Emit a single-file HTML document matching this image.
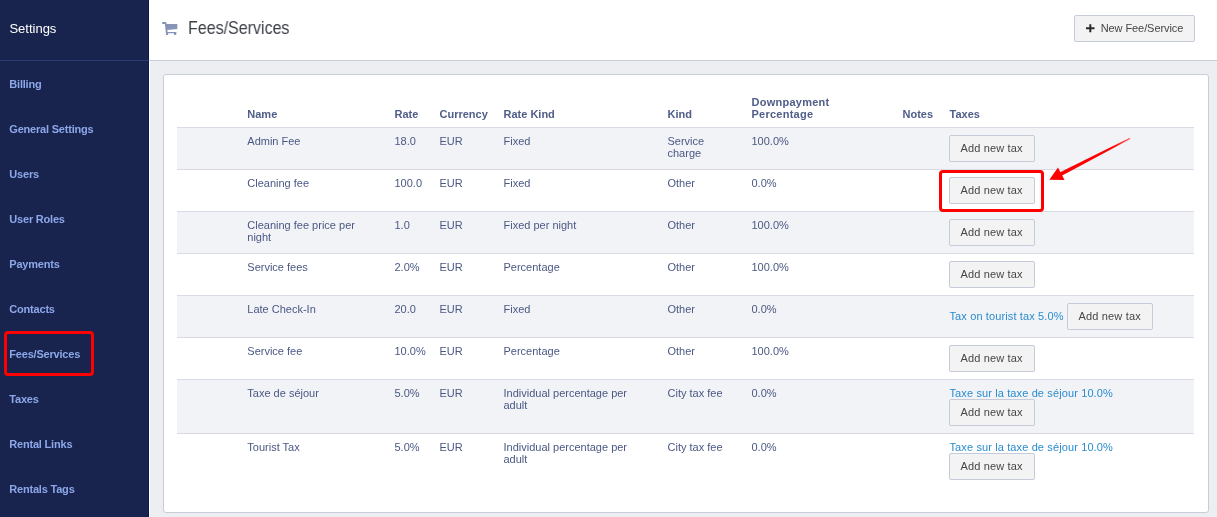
<!DOCTYPE html>
<html><head><meta charset="utf-8">
<style>
*{box-sizing:border-box;margin:0;padding:0}
html,body{width:1217px;height:517px;overflow:hidden;background:#fff}
body{position:relative;font-family:"Liberation Sans",sans-serif;-webkit-font-smoothing:antialiased}
#side,#card,.title,.newbtn{will-change:transform}
#side{position:absolute;left:0;top:0;width:149px;height:517px;background:#18244e;border-right:1px solid #0e1a45}
#side .hdline{position:absolute;left:0;top:60px;width:149px;height:1px;background:#2b3c73}
#side .ttl{position:absolute;left:9.4px;top:21px;color:#fff;font-size:13px;line-height:16px}
#side .nav{position:absolute;left:9.3px;color:#8da7e9;font-size:11px;font-weight:bold;line-height:12px;white-space:nowrap;letter-spacing:-0.2px}
#hdr{position:absolute;left:149px;top:0;width:1068px;height:60px;background:#fff}
#hline{position:absolute;left:149px;top:60px;width:1068px;height:1px;background:#c9cdd8}
#content{position:absolute;left:150px;top:61px;width:1067px;height:456px;background:#eceef2}
#wcol{position:absolute;left:149px;top:61px;width:1px;height:456px;background:#fff}
.title{position:absolute;left:188px;top:18px;font-size:17.5px;line-height:20px;color:#3b3e47;white-space:nowrap;transform:scaleX(0.915);transform-origin:0 0}
.newbtn{position:absolute;left:1074px;top:15px;width:121px;height:27px;border:1px solid #c6cbd9;border-radius:2px;background:#f3f3f3;color:#464646;font-size:11px;line-height:25px;white-space:nowrap}
.newbtn span{position:absolute;left:25.7px;top:0;letter-spacing:-0.08px}
#card{position:absolute;left:163px;top:74px;width:1046px;height:439px;background:#fff;border:1px solid #c9cdd8;border-radius:3px}
table{position:absolute;left:13px;top:0;width:1017px;border-collapse:collapse;table-layout:fixed}
td,th{padding:7px 8px 7px 7.5px;font-size:11px;line-height:12px;text-align:left;vertical-align:top;color:#4a5884;}
td:nth-child(2),th:nth-child(2){padding-left:8.3px}
th:nth-child(9){padding-left:8.5px}
th{font-weight:bold;color:#4f5d89;vertical-align:bottom;padding-bottom:7px}
thead tr{height:52px}
tbody tr{border-top:1px solid #d9dce5}
tbody tr:nth-child(odd){background:#f2f3f6}
.btn{display:inline-block;height:27px;padding:0 11px;letter-spacing:0.15px;border:1px solid #c6cbd9;border-radius:2px;background:#f3f3f3;color:#464646;font-size:11px;line-height:25px;white-space:nowrap;vertical-align:baseline}
a{margin-left:1px;color:#2a8cd0;text-decoration:none;white-space:nowrap;letter-spacing:0.12px}
.red{position:absolute;border:3px solid #ff0000;border-radius:4px}
</style></head><body>
<div id="side">
  <div class="ttl">Settings</div>
  <div class="hdline"></div>
  <div class="nav" style="top:78px">Billing</div>
  <div class="nav" style="top:123px">General Settings</div>
  <div class="nav" style="top:168px">Users</div>
  <div class="nav" style="top:213px">User Roles</div>
  <div class="nav" style="top:258px">Payments</div>
  <div class="nav" style="top:303px">Contacts</div>
  <div class="nav" style="top:348px">Fees/Services</div>
  <div class="nav" style="top:393px">Taxes</div>
  <div class="nav" style="top:438px">Rental Links</div>
  <div class="nav" style="top:483px">Rentals Tags</div>
</div>
<div id="hdr"></div>
<div id="hline"></div>
<div id="wcol"></div>
<div id="content"></div>
<svg style="position:absolute;left:158px;top:18px" width="24" height="20" viewBox="0 0 24 20">
  <g fill="#8794b8">
  <path d="M4.6 4.1 H7.4 Q8.3 4.1 8.5 5 L8.6 5.9 H19.3 V11 L9.3 11.9 L9.6 13.9 H18.3 V15.2 H9.8 L10.4 16.9 H8.1 L6.9 5.9 H4.6 Q4.1 5.9 4.1 5 Q4.1 4.1 4.6 4.1 Z"/>
  <rect x="16" y="14" width="2.2" height="2.9"/>
  </g>
</svg>
<div class="title">Fees/Services</div>
<div class="newbtn"><svg style="position:absolute;left:10.5px;top:8px" width="9" height="9" viewBox="0 0 9 9"><path d="M3.3 0.2 H5.3 V3.2 H8.5 V5.2 H5.3 V8.2 H3.3 V5.2 H0 V3.2 H3.3 Z" fill="#2b2b2b"/></svg><span>New Fee/Service</span></div>
<div id="card">
<table>
<colgroup>
<col style="width:62px"><col style="width:148px"><col style="width:45px"><col style="width:64px"><col style="width:164px"><col style="width:84px"><col style="width:151px"><col style="width:46px"><col>
</colgroup>
<thead><tr><th></th><th>Name</th><th>Rate</th><th>Currency</th><th>Rate Kind</th><th>Kind</th><th style="letter-spacing:0.25px">Downpayment<br>Percentage</th><th>Notes</th><th>Taxes</th></tr></thead>
<tbody>
<tr><td></td><td>Admin Fee</td><td>18.0</td><td>EUR</td><td>Fixed</td><td>Service<br>charge</td><td>100.0%</td><td></td><td><span class="btn">Add new tax</span></td></tr>
<tr><td></td><td>Cleaning fee</td><td>100.0</td><td>EUR</td><td>Fixed</td><td>Other</td><td>0.0%</td><td></td><td><span class="btn">Add new tax</span></td></tr>
<tr><td></td><td>Cleaning fee price per<br>night</td><td>1.0</td><td>EUR</td><td>Fixed per night</td><td>Other</td><td>100.0%</td><td></td><td><span class="btn">Add new tax</span></td></tr>
<tr><td></td><td>Service fees</td><td>2.0%</td><td>EUR</td><td>Percentage</td><td>Other</td><td>100.0%</td><td></td><td><span class="btn">Add new tax</span></td></tr>
<tr><td></td><td>Late Check-In</td><td>20.0</td><td>EUR</td><td>Fixed</td><td>Other</td><td>0.0%</td><td></td><td><a>Tax on tourist tax 5.0%</a> <span class="btn">Add new tax</span></td></tr>
<tr><td></td><td>Service fee</td><td>10.0%</td><td>EUR</td><td>Percentage</td><td>Other</td><td>100.0%</td><td></td><td><span class="btn">Add new tax</span></td></tr>
<tr><td></td><td>Taxe de séjour</td><td>5.0%</td><td>EUR</td><td>Individual percentage per<br>adult</td><td>City tax fee</td><td>0.0%</td><td></td><td><a>Taxe sur la taxe de séjour 10.0%</a><br><span class="btn">Add new tax</span></td></tr>
<tr><td></td><td>Tourist Tax</td><td>5.0%</td><td>EUR</td><td>Individual percentage per<br>adult</td><td>City tax fee</td><td>0.0%</td><td></td><td><a>Taxe sur la taxe de séjour 10.0%</a><br><span class="btn">Add new tax</span></td></tr>
</tbody>
</table>
</div>
<div class="red" style="left:4px;top:331px;width:90px;height:45px"></div>
<div class="red" style="left:939px;top:170px;width:105px;height:42px"></div>
<svg style="position:absolute;left:0;top:0" width="1217" height="517">
  <polygon points="1049.3,179.8 1058,167.6 1064.5,180" fill="#ff0000"/>
  <defs><linearGradient id="ag" gradientUnits="userSpaceOnUse" x1="1060" y1="175" x2="1130" y2="138"><stop offset="0" stop-color="#ff0000"/><stop offset="0.75" stop-color="#ff0000"/><stop offset="1" stop-color="#ff0000" stop-opacity="0.55"/></linearGradient></defs>
  <polygon points="1059.9,176.8 1058.1,173.2 1129.7,137.8 1130.3,139" fill="url(#ag)"/>
</svg>
</body></html>
